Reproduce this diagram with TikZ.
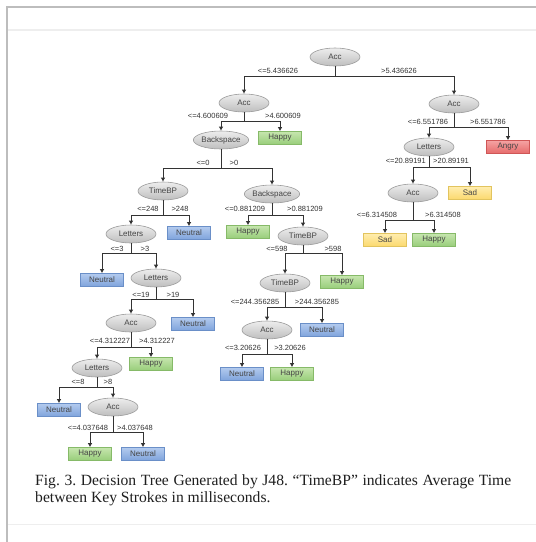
\documentclass[tikz,border=0pt]{standalone}
\usepackage{fontspec}
\setmainfont{Liberation Serif}
\newfontfamily\dsans{Liberation Sans}
\usetikzlibrary{shapes.geometric,arrows.meta}

\definecolor{frameline}{HTML}{BDBDBD}
\definecolor{rule}{HTML}{EEEEEE}
\definecolor{edgecol}{HTML}{333333}
\definecolor{nodetext}{HTML}{454545}
\definecolor{decTop}{HTML}{EDEDED}
\definecolor{decBot}{HTML}{BEBEBE}
\definecolor{decBorder}{HTML}{9C9C9C}
\definecolor{neuTop}{HTML}{B3CBEE}
\definecolor{neuBot}{HTML}{7FA3DC}
\definecolor{neuBorder}{HTML}{6A8FC8}
\definecolor{hapTop}{HTML}{C6E6AE}
\definecolor{hapBot}{HTML}{98CD7A}
\definecolor{hapBorder}{HTML}{86BA68}
\definecolor{sadTop}{HTML}{FFEDAE}
\definecolor{sadBot}{HTML}{FBD96E}
\definecolor{sadBorder}{HTML}{E2C45E}
\definecolor{angTop}{HTML}{F5A3A3}
\definecolor{angBot}{HTML}{E66A6A}
\definecolor{angBorder}{HTML}{CF5656}

% a split: stem from the parent down to the bar, then one arrow to each child
\newcommand\branch[4]{%
  \draw[edge] (#1.south) -- (#1.south |- 0,#2);
  \draw[edge,tip] (#1.south |- 0,#2) -| (#3.north);
  \draw[edge,tip] (#1.south |- 0,#2) -| (#4.north);
}

\begin{document}
\begin{tikzpicture}[x=1pt,y=-1pt,
  test/.style={ellipse, draw=decBorder, line width=0.6pt,
    top color=decTop, bottom color=decBot,
    minimum width=50pt, minimum height=18pt, inner sep=0pt,
    font=\dsans\fontsize{8}{9}\selectfont, text=nodetext},
  leaf/.style={rectangle, line width=0.6pt, minimum width=43pt,
    minimum height=13pt, inner sep=0pt,
    font=\dsans\fontsize{8}{9}\selectfont, text=nodetext},
  neutral/.style={leaf, draw=neuBorder, top color=neuTop, bottom color=neuBot},
  happy/.style={leaf, draw=hapBorder, top color=hapTop, bottom color=hapBot},
  sad/.style={leaf, draw=sadBorder, top color=sadTop, bottom color=sadBot},
  angry/.style={leaf, draw=angBorder, top color=angTop, bottom color=angBot},
  cond/.style={font=\dsans\fontsize{7.5}{8}\selectfont, text=edgecol, inner sep=0pt},
  edge/.style={draw=edgecol, line width=0.9pt},
  tip/.style={-{Latex[length=4pt,width=4.5pt]}},
]
\useasboundingbox (0,0) rectangle (536,542);
\fill[white] (0,0) rectangle (536,542);

% page frame
\draw[frameline, line width=2pt] (6.5,542) -- (6.5,6.5) -- (536,6.5);
\draw[rule, line width=2pt] (8,30) -- (536,30);
\draw[rule, line width=1pt] (8,524) -- (536,524);

% decision nodes
\node[test] (acc0) at (335,57) {Acc};
\node[test] (accL) at (244,103) {Acc};
\node[test] (accR) at (454,104) {Acc};
\node[test, minimum width=52pt] (bs1) at (221,140) {Backspace};
\node[test, minimum width=52pt] (bs2) at (272,194) {Backspace};
\node[test] (tb1) at (163,191) {TimeBP};
\node[test] (tb2) at (303,236) {TimeBP};
\node[test] (tb3) at (285,283) {TimeBP};
\node[test] (let1) at (429,147) {Letters};
\node[test] (let2) at (131,234) {Letters};
\node[test] (let3) at (156,278) {Letters};
\node[test] (let4) at (97,368) {Letters};
\node[test] (acc3) at (131,323) {Acc};
\node[test] (acc4) at (267,330) {Acc};
\node[test] (acc5) at (113,407) {Acc};
\node[test] (acc6) at (413,193) {Acc};

% leaves
\node[happy] (h1) at (280,138) {Happy};
\node[angry] (ang) at (508,147) {Angry};
\node[neutral] (n1) at (189,233) {Neutral};
\node[happy] (h2) at (248,232) {Happy};
\node[neutral] (n2) at (102,280) {Neutral};
\node[happy] (h3) at (342,282) {Happy};
\node[neutral] (n3) at (193,324) {Neutral};
\node[neutral] (n4) at (322,330) {Neutral};
\node[happy] (h4) at (151,364) {Happy};
\node[neutral] (n5) at (242,374) {Neutral};
\node[happy] (h5) at (292,374) {Happy};
\node[neutral] (n6) at (59,410) {Neutral};
\node[happy] (h6) at (90,454) {Happy};
\node[neutral] (n7) at (143,454) {Neutral};
\node[sad] (s1) at (470,193) {Sad};
\node[sad] (s2) at (385,240) {Sad};
\node[happy] (h7) at (434,240) {Happy};

% connectors
\branch{acc0}{76}{accL}{accR}
\branch{accL}{121}{bs1}{h1}
\branch{accR}{127}{let1}{ang}
\branch{bs1}{168}{tb1}{bs2}
\branch{tb1}{215}{let2}{n1}
\branch{bs2}{215}{h2}{tb2}
\branch{let2}{253}{n2}{let3}
\branch{tb2}{253}{tb3}{h3}
\branch{let3}{299}{acc3}{n3}
\branch{tb3}{307}{acc4}{n4}
\branch{acc3}{347}{let4}{h4}
\branch{acc4}{354}{n5}{h5}
\branch{let4}{387}{n6}{acc5}
\branch{acc5}{432}{h6}{n7}
\branch{let1}{167}{acc6}{s1}
\branch{acc6}{220}{s2}{h7}

% split conditions
\node[cond] (c1a) at (278,71) {<=5.436626};
\node[cond] (c1b) at (399,71) {>5.436626};
\node[cond] (c2a) at (208,116) {<=4.600609};
\node[cond] (c2b) at (283,116) {>4.600609};
\node[cond] (c3a) at (428,122) {<=6.551786};
\node[cond] (c3b) at (488,122) {>6.551786};
\node[cond] (c4a) at (203,163) {<=0};
\node[cond] (c4b) at (234,163) {>0};
\node[cond] (c5a) at (148,209) {<=248};
\node[cond] (c5b) at (180,209) {>248};
\node[cond] (c6a) at (245,209) {<=0.881209};
\node[cond] (c6b) at (305,209) {>0.881209};
\node[cond] (c7a) at (117,249) {<=3};
\node[cond] (c7b) at (145,249) {>3};
\node[cond] (c8a) at (277,249) {<=598};
\node[cond] (c8b) at (333,249) {>598};
\node[cond] (c9a) at (141,295) {<=19};
\node[cond] (c9b) at (173,295) {>19};
\node[cond] (c10a) at (255,302) {<=244.356285};
\node[cond] (c10b) at (317,302) {>244.356285};
\node[cond] (c11a) at (110,341) {<=4.312227};
\node[cond] (c11b) at (157,341) {>4.312227};
\node[cond] (c12a) at (243,348) {<=3.20626};
\node[cond] (c12b) at (290,348) {>3.20626};
\node[cond] (c13a) at (78,382) {<=8};
\node[cond] (c13b) at (108,382) {>8};
\node[cond] (c14a) at (88,428) {<=4.037648};
\node[cond] (c14b) at (135,428) {>4.037648};
\node[cond, anchor=east] (c15a) at (426,161) {<=20.89191};
\node[cond, anchor=west] (c15b) at (433,161) {>20.89191};
\node[cond] (c16a) at (377,215) {<=6.314508};
\node[cond] (c16b) at (443,215) {>6.314508};

% caption
\node[anchor=north west, inner sep=0pt, text width=476pt, align=justify,
      font=\fontsize{15.6}{17}\selectfont\frenchspacing, text=black!88] (cap) at (35,474)
  {Fig.~3. Decision Tree Generated by J48. “TimeBP” indicates Average Time between Key Strokes in milliseconds.};
\end{tikzpicture}
\end{document}
